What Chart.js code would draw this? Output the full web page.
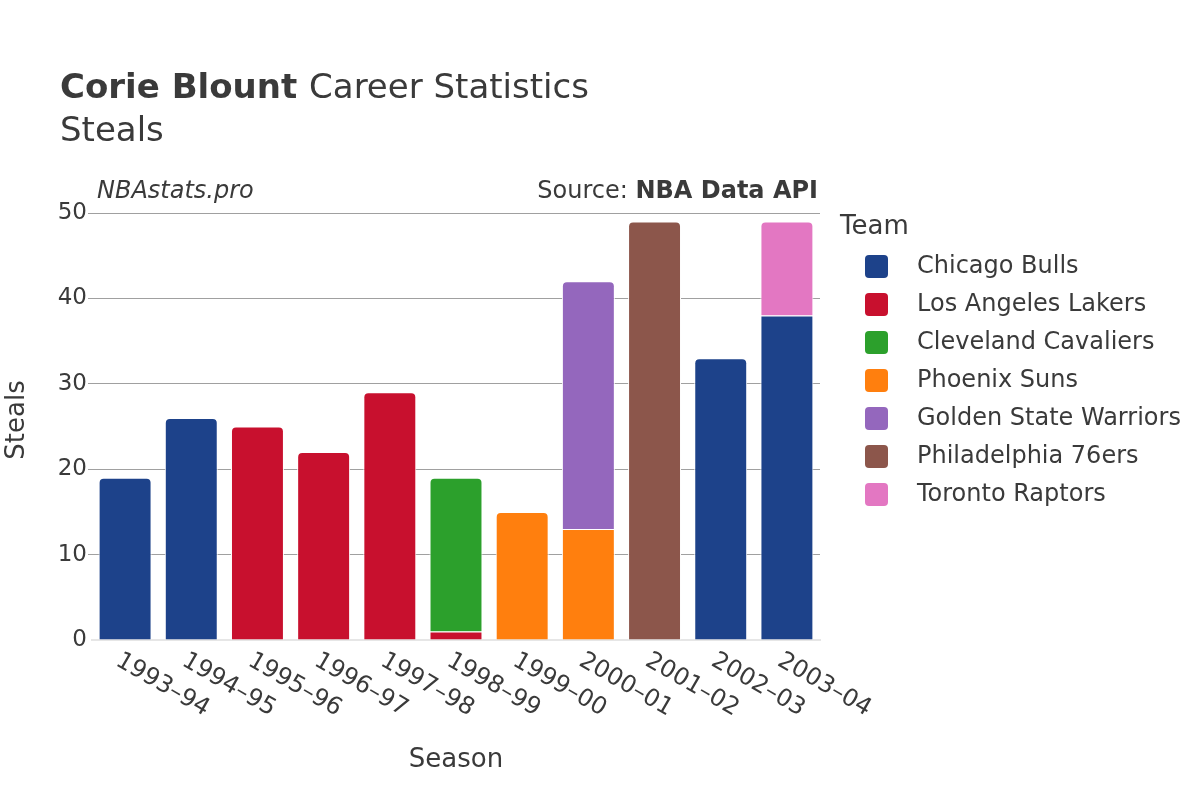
<!DOCTYPE html>
<html>
<head>
<meta charset="utf-8">
<script src="https://cdn.jsdelivr.net/npm/chart.js@4.4.0/dist/chart.umd.min.js"></script>
<style>
  body { margin: 0; background: #fff; }
</style>
</head>
<body>
<canvas id="chart" width="1200" height="800"></canvas>
<script>
var seasons = ['1993–94', '1994–95', '1995–96', '1996–97', '1997–98', '1998–99',
               '1999–00', '2000–01', '2001–02', '2002–03', '2003–04'];
var teams = ['Chicago Bulls', 'Los Angeles Lakers', 'Cleveland Cavaliers', 'Phoenix Suns',
             'Golden State Warriors', 'Philadelphia 76ers', 'Toronto Raptors'];
var teamColors = ['#1d428a', '#c8102e', '#2ca02c', '#ff7f0e', '#9467bd', '#8c564b', '#e377c2'];

// steals per team per season (null = did not play for that team)
var bulls     = [19, 26, null, null, null, null, null, null, null, 33, 38];
var lakers    = [null, null, 25, 22, 29, 1, null, null, null, null, null];
var cavaliers = [null, null, null, null, null, 18, null, null, null, null, null];
var suns      = [null, null, null, null, null, null, 15, 13, null, null, null];
var warriors  = [null, null, null, null, null, null, null, 29, null, null, null];
var sixers    = [null, null, null, null, null, null, null, null, 49, null, null];
var raptors   = [null, null, null, null, null, null, null, null, null, null, 11];
var yTicks = [0, 10, 20, 30, 40, 50];

var teamData = [bulls, lakers, cavaliers, suns, warriors, sixers, raptors];
var FONT = '"DejaVu Sans", sans-serif';
var TEXT = '#3a3a3a';

// only the top segment of each stack gets rounded corners
function topRadius(ctx) {
  var ds = ctx.datasetIndex, i = ctx.dataIndex;
  for (var k = ds + 1; k < teamData.length; k++) {
    if (teamData[k][i] != null) return 0;
  }
  return { topLeft: 5, topRight: 5, bottomLeft: 0, bottomRight: 0 };
}

var datasets = teams.map(function (name, k) {
  return {
    label: name,
    data: teamData[k],
    backgroundColor: teamColors[k],
    borderColor: '#ffffff',
    borderWidth: 1,
    borderRadius: topRadius,
    borderSkipped: 'start',
    barPercentage: 0.8,
    categoryPercentage: 1.0
  };
});

var decorations = {
  id: 'decorations',
  afterDraw: function (chart) {
    var c = chart.ctx, area = chart.chartArea, x = chart.scales.x;
    c.save();
    c.fillStyle = TEXT;
    c.textBaseline = 'middle';

    // title
    c.textAlign = 'left';
    c.font = 'bold 34px ' + FONT;
    c.fillText('Corie Blount', 60, 89);
    var w = c.measureText('Corie Blount ').width;
    c.font = '34px ' + FONT;
    c.fillText('Career Statistics', 60 + w, 89);
    c.fillText('Steals', 60, 132);

    // site + source
    c.font = 'italic 24px ' + FONT;
    c.fillText('NBAstats.pro', 97, 192);
    c.textAlign = 'right';
    c.font = 'bold 24px ' + FONT;
    c.fillText('NBA Data API', 818, 192);
    var bw = c.measureText('NBA Data API').width;
    c.font = '24px ' + FONT;
    c.fillText('Source: ', 818 - bw, 192);

    // rotated season labels
    c.font = '24px ' + FONT;
    c.textAlign = 'left';
    seasons.forEach(function (s, i) {
      var px = x.getPixelForTick(i);
      c.save();
      c.translate(px - 7.5, area.bottom + 19);
      c.rotate(Math.PI / 6);
      c.fillText(s, 0, 0);
      c.restore();
    });

    // axis titles
    c.font = '26px ' + FONT;
    c.textAlign = 'center';
    c.fillText('Season', (area.left + area.right) / 2, 760);
    c.save();
    c.translate(17, 420);
    c.rotate(-Math.PI / 2);
    c.fillText('Steals', 0, 0);
    c.restore();

    // legend
    c.textAlign = 'left';
    c.font = '26px ' + FONT;
    c.fillText('Team', 840, 227);
    c.font = '24px ' + FONT;
    teams.forEach(function (name, k) {
      var cy = 266 + k * 38;
      c.fillStyle = teamColors[k];
      c.beginPath();
      c.roundRect(865, cy - 11, 23, 23, 4);
      c.fill();
      c.fillStyle = TEXT;
      c.fillText(name, 917, cy + 1);
    });
    c.restore();
  }
};

new Chart(document.getElementById('chart'), {
  type: 'bar',
  data: { labels: seasons, datasets: datasets },
  options: {
    responsive: false,
    animation: false,
    devicePixelRatio: 1,
    layout: { padding: { left: 0, right: 380, top: 213, bottom: 160 } },
    plugins: {
      legend: { display: false },
      title: { display: false },
      tooltip: { enabled: false }
    },
    scales: {
      x: {
        stacked: true,
        afterFit: function (scale) { scale.height = 0; },
        ticks: { display: false },
        grid: { display: false },
        border: { display: true, color: '#e6e6e6', width: 2 }
      },
      y: {
        stacked: true,
        min: 0,
        max: 50,
        afterFit: function (scale) { scale.width = 92; },
        afterBuildTicks: function (scale) {
          scale.ticks = yTicks.map(function (v) { return { value: v }; });
        },
        ticks: { color: TEXT, font: { family: FONT, size: 23 }, padding: 1 },
        grid: {
          color: function (ctx) { return ctx.tick && ctx.tick.value === 0 ? 'rgba(0,0,0,0)' : '#a0a0a0'; },
          tickLength: 4,
          lineWidth: 1
        },
        border: { display: false }
      }
    }
  },
  plugins: [decorations]
});
</script>
</body>
</html>
